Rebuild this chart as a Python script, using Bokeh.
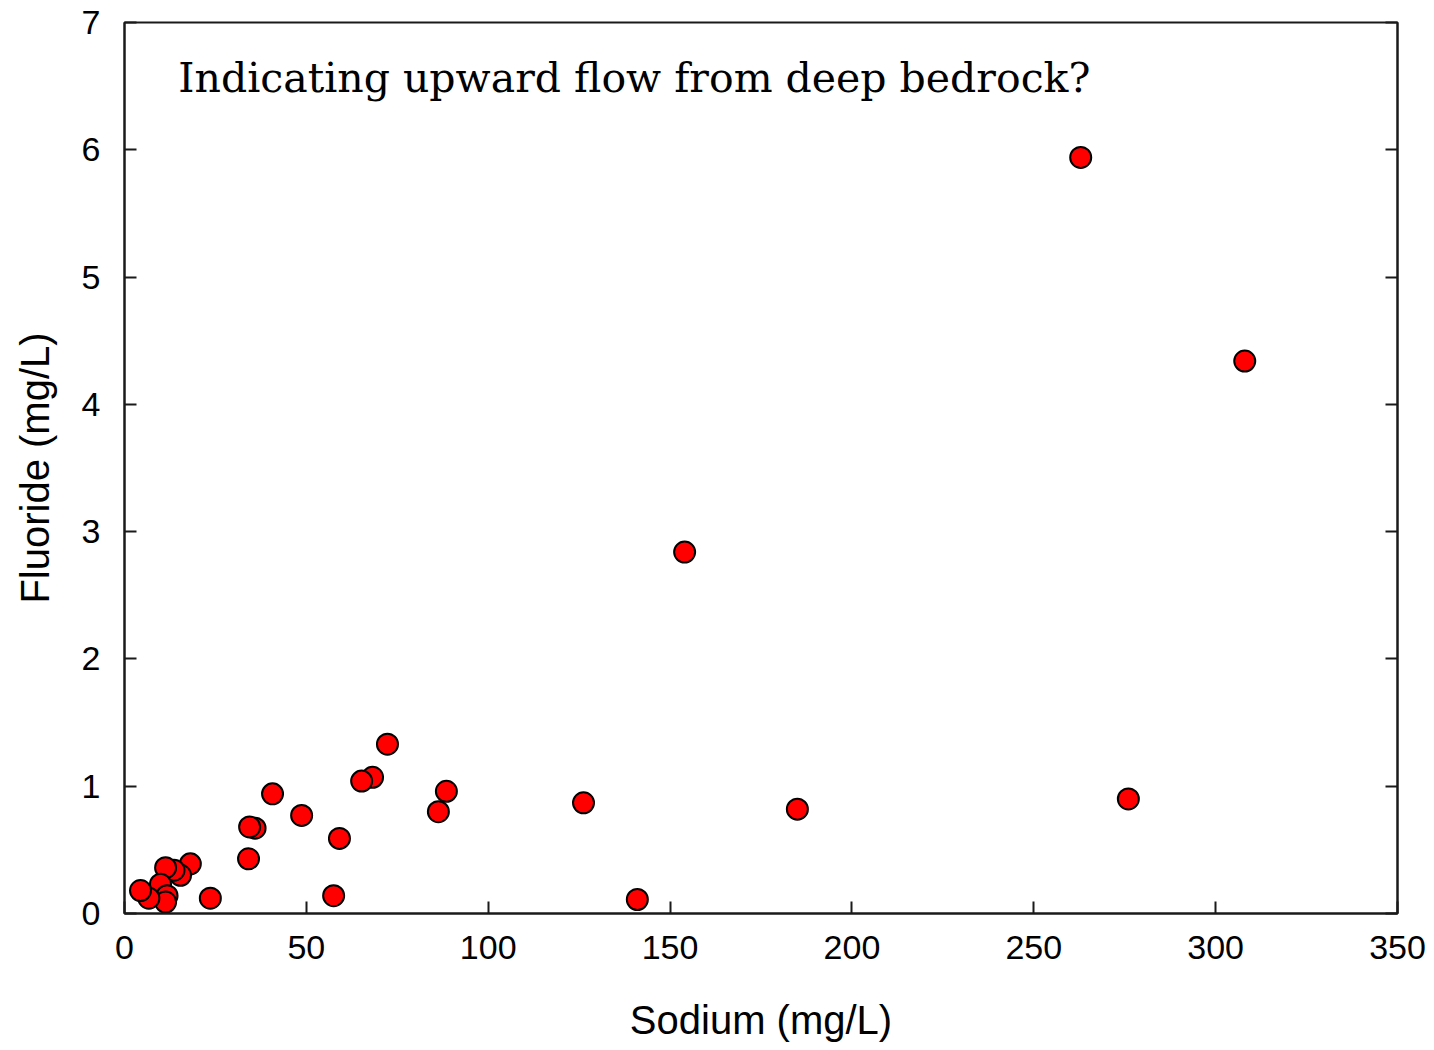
from bokeh.plotting import figure
from bokeh.models import LinearAxis, SingleIntervalTicker, Range1d, Label, ColumnDataSource
from bokeh.embed import file_html
from bokeh.resources import INLINE

sodium = [262.9, 308.0, 154.0, 276.0, 185.0, 126.2, 141.0, 88.5, 86.3, 72.3,
          68.2, 65.2, 59.1, 57.5, 48.7, 40.7, 35.9, 34.4, 34.1, 23.6,
          18.1, 15.4, 13.6, 11.3, 9.9, 11.7, 11.3, 6.7, 4.4]
fluoride = [5.94, 4.34, 2.84, 0.90, 0.82, 0.87, 0.11, 0.96, 0.80, 1.33,
            1.07, 1.04, 0.59, 0.14, 0.77, 0.94, 0.67, 0.68, 0.43, 0.12,
            0.39, 0.30, 0.34, 0.36, 0.23, 0.14, 0.09, 0.12, 0.18]

x_ticks_step = 50
y_ticks_step = 1
y_tick_values = [0, 1, 2, 3, 4, 5, 6, 7]
title_text = "Indicating upward flow from deep bedrock?"

src = ColumnDataSource(dict(x=sodium, y=fluoride))

p = figure(width=1434, height=1050, output_backend="svg", toolbar_location=None,
           x_range=Range1d(0, 350), y_range=Range1d(0, 7),
           min_border_left=124, min_border_right=37, min_border_top=22, min_border_bottom=137,
           x_axis_label="Sodium (mg/L)", y_axis_label="Fluoride (mg/L)")
p.grid.visible = False
p.outline_line_color = "#1a1a1a"
p.outline_line_width = 2
p.background_fill_color = "white"
p.border_fill_color = "white"

for ax, step in ((p.xaxis[0], x_ticks_step), (p.yaxis[0], y_ticks_step)):
    ax.ticker = SingleIntervalTicker(interval=step)
    ax.major_tick_in = 12
    ax.major_tick_out = 0
    ax.minor_tick_line_color = None
    ax.axis_line_color = "#1a1a1a"
    ax.axis_line_width = 2
    ax.major_tick_line_color = "#1a1a1a"
    ax.major_tick_line_width = 2
    ax.major_label_text_font = "Liberation Sans"
    ax.major_label_text_font_size = "34px"
    ax.major_label_text_color = "black"
    ax.axis_label_text_font = "Liberation Sans"
    ax.axis_label_text_font_size = "40px"
    ax.axis_label_text_font_style = "normal"
    ax.axis_label_text_color = "black"

p.xaxis[0].major_label_standoff = 18
p.xaxis[0].axis_label_standoff = 36
p.yaxis[0].major_label_standoff = 20
p.yaxis[0].axis_label_standoff = 22

right = LinearAxis(ticker=SingleIntervalTicker(interval=y_ticks_step))
right.major_tick_in = 12
right.major_tick_out = 0
right.minor_tick_line_color = None
right.axis_line_color = "#1a1a1a"
right.axis_line_width = 2
right.major_tick_line_color = "#1a1a1a"
right.major_tick_line_width = 2
right.major_label_overrides = {v: "" for v in y_tick_values}
right.major_label_standoff = 0
p.add_layout(right, "right")

p.scatter("x", "y", source=src, size=21, fill_color="#ff0000", line_color="black", line_width=2)

lbl = Label(x=14.8, y=6.75, text=title_text, text_font="DejaVu Serif",
            text_font_size="41px", text_color="black", text_baseline="top")
p.add_layout(lbl)

open("out.html", "w").write(file_html(p, INLINE))
